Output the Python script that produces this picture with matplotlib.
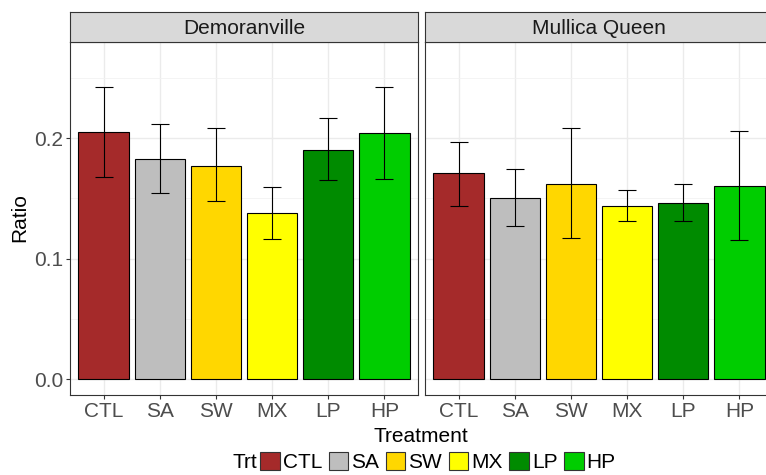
import matplotlib.pyplot as plt
from matplotlib.patches import Patch
from matplotlib.ticker import MultipleLocator

plt.rcParams['font.family'] = ['Liberation Sans', 'DejaVu Sans']

treatments = ['CTL', 'SA', 'SW', 'MX', 'LP', 'HP']
colors = ['#A52A2A', '#BEBEBE', '#FFD700', '#FFFF00', '#008B00', '#00CD00']
sites = ['Demoranville', 'Mullica Queen']

# bar heights and error bar ends
demo_mean = [0.205, 0.183, 0.177, 0.138, 0.190, 0.204]
demo_lo = [0.168, 0.154, 0.148, 0.116, 0.165, 0.166]
demo_hi = [0.242, 0.212, 0.208, 0.159, 0.217, 0.242]

mq_mean = [0.171, 0.150, 0.162, 0.144, 0.146, 0.160]
mq_lo = [0.144, 0.127, 0.117, 0.131, 0.131, 0.115]
mq_hi = [0.197, 0.174, 0.208, 0.157, 0.162, 0.206]

W, H = 766, 475
fig = plt.figure(figsize=(W / 100, H / 100), dpi=100)

def fx(px):
    return px / W

def fy(px):
    return 1 - px / H

panels = [(70, demo_mean, demo_lo, demo_hi), (425, mq_mean, mq_lo, mq_hi)]
pw = 348
top, bottom, strip_top = 42, 395, 12

for (x0, mean, lo, hi), site in zip(panels, sites):
    ax = fig.add_axes([fx(x0), fy(bottom), pw / W, (bottom - top) / H])
    pos = list(range(len(treatments)))
    ax.bar(pos, mean, width=0.9, color=colors, edgecolor='black', linewidth=0.8, zorder=3)
    yerr = [[m - l for m, l in zip(mean, lo)], [h - m for m, h in zip(mean, hi)]]
    ax.errorbar(pos, mean, yerr=yerr, fmt='none', ecolor='black', elinewidth=0.8,
                capsize=6.8, capthick=0.8, zorder=4)
    ax.set_xlim(-0.6, 5.6)
    ax.set_ylim(-0.0132, 0.2797)
    ax.set_xticks(pos)
    ax.set_xticklabels(treatments)
    ax.yaxis.set_major_locator(MultipleLocator(0.1))
    ax.yaxis.set_minor_locator(MultipleLocator(0.05))
    ax.grid(True, which='major', color='#EBEBEB', linewidth=1.0, zorder=0)
    ax.grid(True, which='minor', axis='y', color='#F2F2F2', linewidth=0.6, zorder=0)
    ax.tick_params(axis='both', which='major', labelsize=15, labelcolor='#4D4D4D',
                   color='#333333', length=3, width=0.8, pad=2)
    ax.tick_params(which='minor', length=0)
    if x0 == 70:
        ax.yaxis.set_major_formatter(plt.FuncFormatter(lambda v, p: f'{v:.1f}'))
    else:
        ax.tick_params(axis='y', labelleft=False, length=0)
    for s in ax.spines.values():
        s.set_color('#333333')
        s.set_linewidth(0.8)

    sax = fig.add_axes([fx(x0), fy(top), pw / W, (top - strip_top) / H])
    sax.set_facecolor('#D9D9D9')
    sax.set_xticks([])
    sax.set_yticks([])
    for s in sax.spines.values():
        s.set_color('#333333')
        s.set_linewidth(0.8)
    sax.text(0.5, 0.45, site, transform=sax.transAxes, ha='center', va='center',
             fontsize=15, color='#1A1A1A')

fig.text(fx(20), fy(218), 'Ratio', rotation=90, ha='center', va='center', fontsize=15)
fig.text(fx(421), fy(437), 'Treatment', ha='center', va='center', fontsize=15)

fig.text(fx(257), fy(463), 'Trt', ha='right', va='center', fontsize=15)
handles = [Patch(facecolor=c, edgecolor='#333333', linewidth=0.8) for c in colors]
fig.legend(handles, treatments, loc='center left', bbox_to_anchor=(fx(260), fy(462)),
           ncol=6, frameon=False, fontsize=15, handlelength=0.95, handleheight=0.95,
           handletextpad=0.15, columnspacing=0.3, borderpad=0, borderaxespad=0)

fig.savefig('out.png', dpi=100)
